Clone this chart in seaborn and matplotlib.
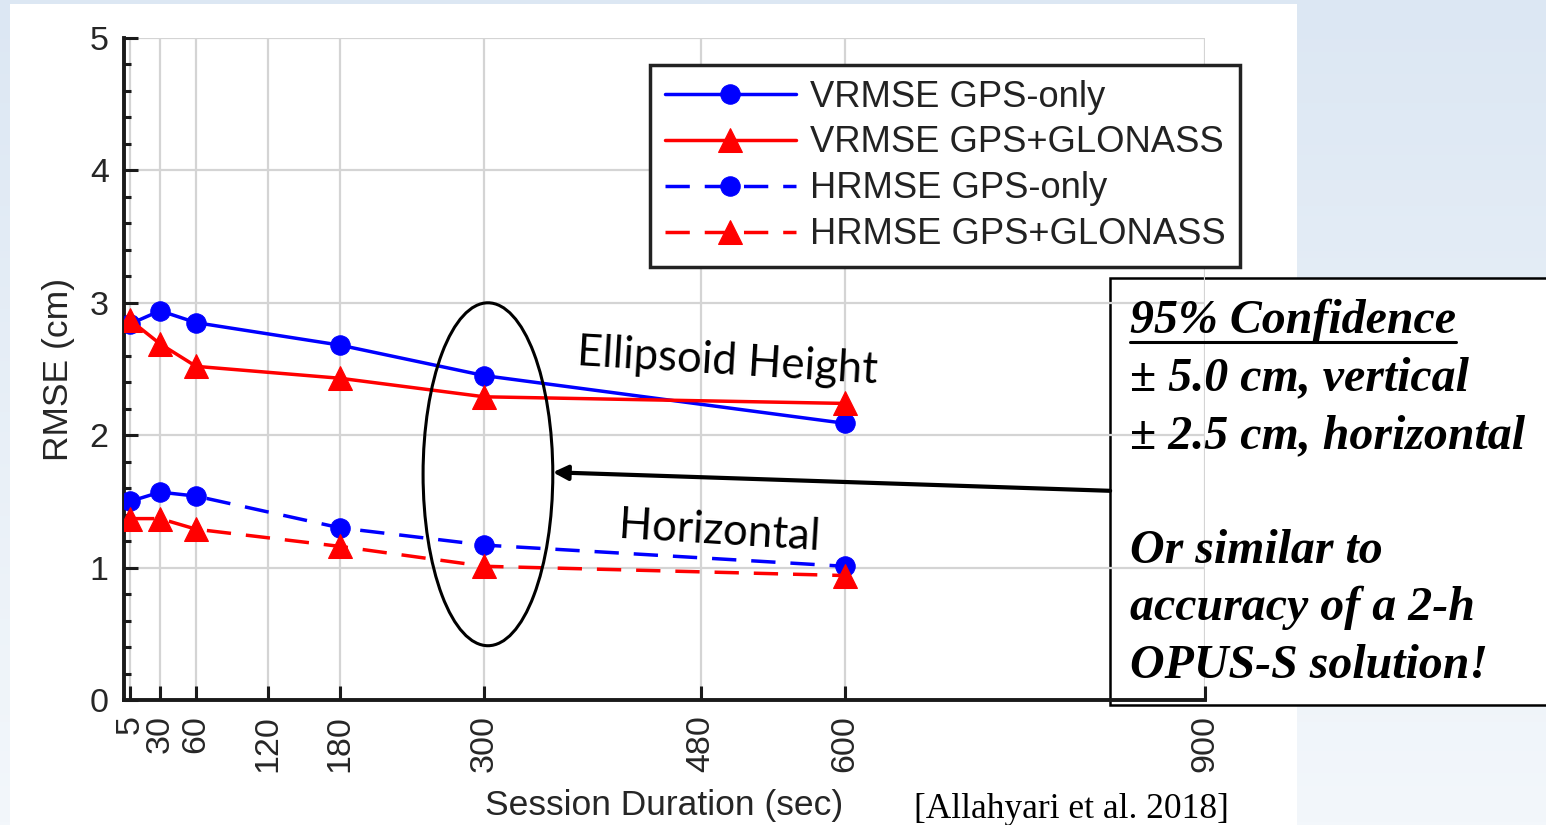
import numpy as np
import pandas as pd
import matplotlib
matplotlib.use("Agg")
import matplotlib.pyplot as plt
import seaborn as sns
from matplotlib.patches import Ellipse, Rectangle
from matplotlib.ticker import MultipleLocator
from matplotlib.lines import Line2D

# ---------------- data ----------------
durations = [5, 30, 60, 180, 300, 600]
vrmse_gps = [2.84, 2.94, 2.85, 2.68, 2.45, 2.09]
vrmse_gg = [2.87, 2.69, 2.52, 2.43, 2.29, 2.24]
hrmse_gps = [1.50, 1.57, 1.54, 1.30, 1.17, 1.01]
hrmse_gg = [1.37, 1.37, 1.29, 1.16, 1.01, 0.94]
series_labels = ["VRMSE GPS-only", "VRMSE GPS+GLONASS",
                 "HRMSE GPS-only", "HRMSE GPS+GLONASS"]
xtick_vals = [5, 30, 60, 120, 180, 300, 480, 600, 900]
ytick_vals = [0, 1, 2, 3, 4, 5]
box_lines = ["95% Confidence", "\u00b1 5.0 cm, vertical", "\u00b1 2.5 cm, horizontal",
             "Or similar to", "accuracy of a 2-h", "OPUS-S solution!"]

sns.set_style("white")
plt.rcParams["font.family"] = ["Liberation Sans", "DejaVu Sans"]

W, H = 1546, 825
fig = plt.figure(figsize=(W / 100, H / 100), dpi=100)


def fx(px):
    return px / W


def fy(py):
    return 1 - py / H


# background (slide) gradient + white chart area
bg = fig.add_axes([0, 0, 1, 1], zorder=-10)
grad = np.linspace(0, 1, 256).reshape(-1, 1)
cmap = matplotlib.colors.LinearSegmentedColormap.from_list("bg", ["#dce7f3", "#f3f7fb"])
bg.imshow(grad, aspect="auto", cmap=cmap, extent=[0, 1, 0, 1])
bg.set_axis_off()
fig.patches.append(Rectangle((fx(10), 0), fx(1297) - fx(10), fy(4), transform=fig.transFigure,
                             facecolor="white", edgecolor="none", zorder=-5))
# annotation box (under the axes so grid shows through)
fig.patches.append(Rectangle((fx(1110), fy(705)), 1.02 - fx(1110), fy(278) - fy(705),
                             transform=fig.transFigure, facecolor="white",
                             edgecolor="black", lw=1.8, zorder=-1))

ax = fig.add_axes([fx(124), fy(700), fx(1205) - fx(124), fy(38) - fy(700)], zorder=0)
ax.set_facecolor("none")

df = pd.DataFrame({"dur": durations, "v_gps": vrmse_gps, "v_gg": vrmse_gg,
                   "h_gps": hrmse_gps, "h_gg": hrmse_gg})
specs = [("v_gps", "#0000ff", "o", "-", 14),
         ("v_gg", "#ff0000", "^", "-", 17),
         ("h_gps", "#0000ff", "o", "--", 14),
         ("h_gg", "#ff0000", "^", "--", 17)]
handles = []
for (col, color, mk, ls, ms), lab in zip(specs, series_labels):
    n0 = len(ax.lines)
    sns.lineplot(data=df, x="dur", y=col, ax=ax, color=color, marker=mk,
                 markersize=ms, markeredgecolor=color, lw=2.5, legend=False, zorder=3)
    line = ax.lines[n0]
    if ls == "--":
        line.set_linestyle((0, (7, 4.3)))
    line.set_label(lab)
    handles.append(line)

ax.set_xlim(0, 900)
ax.set_ylim(0, 5)
ax.set_xticks(xtick_vals)
ax.set_xticklabels([str(v) for v in xtick_vals], rotation=90)
ax.set_yticks(ytick_vals)
ax.yaxis.set_minor_locator(MultipleLocator(0.2))
ax.tick_params(axis="both", which="major", direction="in", length=10, width=2.2,
               labelsize=24.5, labelcolor="#262626", color="#1a1a1a", pad=11,
               left=True, bottom=True)
ax.tick_params(axis="y", which="minor", direction="in", length=5, width=2.2,
               color="#1a1a1a", left=True)
ax.grid(True, which="major", color="#d4d4d4", lw=1.6, zorder=0)
for s in ["top", "right"]:
    ax.spines[s].set_visible(False)
for s in ["left", "bottom"]:
    ax.spines[s].set_color("#1a1a1a")
    ax.spines[s].set_linewidth(2.8)

ax.set_xlabel("Session Duration (sec)", fontsize=25.5, color="#262626")
ax.set_ylabel("RMSE (cm)", fontsize=25.5, color="#262626")
ax.xaxis.set_label_coords(0.5, -0.134)
ax.yaxis.set_label_coords(-0.045, 0.5)

leg = ax.legend(handles=handles, loc="upper left", bbox_to_anchor=(fx(650), fy(65)),
                bbox_transform=fig.transFigure, borderaxespad=0, fontsize=26.2,
                handlelength=3.6, handletextpad=0.4, labelspacing=0.3,
                borderpad=0.4, fancybox=False, framealpha=1, edgecolor="#222222")
leg.get_frame().set_linewidth(2.5)
leg.set_zorder(10)
for t in leg.get_texts():
    t.set_color("#222222")

# ellipse and arrow
ax.add_patch(Ellipse((303, 1.705), width=108, height=2.59, facecolor="none",
                     edgecolor="black", lw=2.2, zorder=5, clip_on=False))
ax.annotate("", xy=(357, 1.72), xytext=(821, 1.58), xycoords="data",
            arrowprops=dict(arrowstyle="-|>", lw=3, color="black", mutation_scale=22,
                            shrinkA=0, shrinkB=0), annotation_clip=False, zorder=6)

fig.text(fx(727), fy(374), "Ellipsoid Height", family=["Lato", "DejaVu Sans"], fontsize=31.5,
         rotation=-3.5, rotation_mode="anchor", ha="center", va="baseline", color="black")
fig.text(fx(719), fy(544), "Horizontal", family=["Lato", "DejaVu Sans"], fontsize=31.5,
         rotation=-3.5, rotation_mode="anchor", ha="center", va="baseline", color="black")

fig.text(fx(1071), fy(818), "[Allahyari et al. 2018]", family=["Liberation Serif", "DejaVu Serif"],
         fontsize=25.5, ha="center", va="baseline", color="black")

baselines = [333, 390, 448, 563, 620, 678]
txts = []
for line_txt, b in zip(box_lines, baselines):
    t = fig.text(fx(1130), fy(b), line_txt, family=["Liberation Serif", "DejaVu Serif"],
                 fontsize=34.5, fontweight="bold", fontstyle="italic", ha="left",
                 va="baseline", color="black")
    txts.append(t)

fig.canvas.draw()
bb = txts[0].get_window_extent(renderer=fig.canvas.get_renderer())
x0, x1 = bb.x0 / fig.bbox.width, bb.x1 / fig.bbox.width
fig.add_artist(Line2D([x0, x1], [fy(342), fy(342)], transform=fig.transFigure,
                      color="black", lw=2.2))

fig.savefig("out.png", dpi=100)
